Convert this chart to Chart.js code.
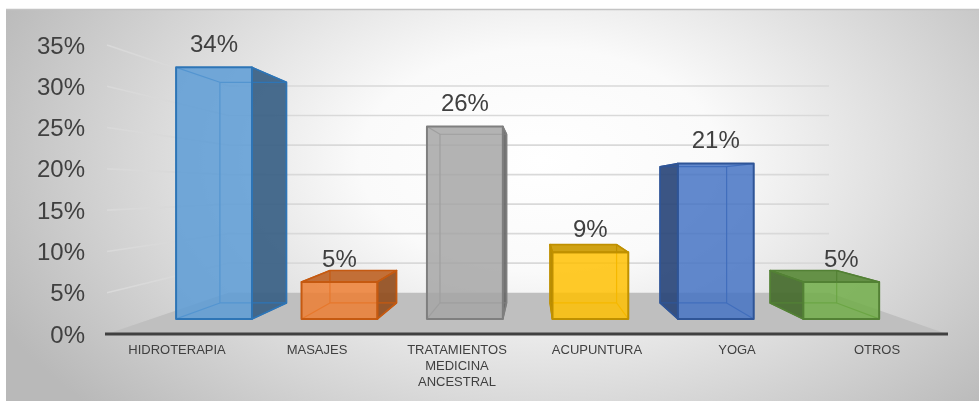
<!DOCTYPE html>
<html lang="es">
<head>
<meta charset="utf-8">
<title>Terapias alternativas</title>
<script src="https://cdn.jsdelivr.net/npm/chart.js@4.4.1/dist/chart.umd.min.js"></script>
<style>
  html, body { margin: 0; padding: 0; background: #fff; }
</style>
</head>
<body>
<canvas id="grafico" width="979" height="403"></canvas>
<script>
const categorias = ['HIDROTERAPIA', 'MASAJES', ['TRATAMIENTOS', 'MEDICINA', 'ANCESTRAL'], 'ACUPUNTURA', 'YOGA', 'OTROS'];
const porcentajes = [34, 5, 26, 9, 21, 5];
const marcasEje = [0, 5, 10, 15, 20, 25, 30, 35];

const relleno = ['#5B9BD5', '#ED7D31', '#A5A5A5', '#FFC000', '#4472C4', '#70AD47'];
const borde = ['#2E75B6', '#C55A11', '#7F7F7F', '#BF9000', '#2F5597', '#538135'];

const fuente = 'Liberation Sans, Arial, sans-serif';

// vista 3D: punto de fuga y profundidad relativa de pared, cara frontal y cara trasera
const fuga = { x: 533, y: 189 };
const PROF_PARED = 0.715;
const PROF_FRENTE = 0.896;
const PROF_FONDO = 0.786;

function proyectar(x, y, k) {
    return [fuga.x + (x - fuga.x) * k, fuga.y + (y - fuga.y) * k];
}

function oscurecer(hex, f) {
    const n = parseInt(hex.slice(1), 16);
    const r = Math.round(((n >> 16) & 255) * f);
    const g = Math.round(((n >> 8) & 255) * f);
    const b = Math.round((n & 255) * f);
    return `rgb(${r},${g},${b})`;
}

function poligono(ctx, pts) {
    ctx.beginPath();
    ctx.moveTo(pts[0][0], pts[0][1]);
    for (let i = 1; i < pts.length; i++) ctx.lineTo(pts[i][0], pts[i][1]);
    ctx.closePath();
}

const fondo = {
    id: 'fondo',
    beforeDraw(chart) {
        const ctx = chart.ctx;
        ctx.save();
        ctx.fillStyle = '#ffffff';
        ctx.fillRect(0, 0, chart.width, chart.height);
        const cx = 540, cy = 160, sy = 0.62;
        ctx.translate(cx, cy);
        ctx.scale(1, sy);
        const g = ctx.createRadialGradient(0, 0, 0, 0, 0, 600);
        g.addColorStop(0, '#ffffff');
        g.addColorStop(0.3, '#fafafa');
        g.addColorStop(1, '#b9b9b9');
        ctx.fillStyle = g;
        ctx.fillRect(6 - cx, (9 - cy) / sy, chart.width - 6, (401 - 9) / sy);
        ctx.restore();
        ctx.save();
        ctx.strokeStyle = '#c4c4c4';
        ctx.lineWidth = 1.5;
        ctx.beginPath();
        ctx.moveTo(6, 9.5);
        ctx.lineTo(chart.width, 9.5);
        ctx.stroke();
        ctx.restore();
    }
};

const cajas3d = {
    id: 'cajas3d',
    beforeDatasetsDraw(chart) {
        const { ctx, chartArea: a, scales: { y } } = chart;
        ctx.save();
        // suelo
        const base = y.getPixelForValue(0);
        poligono(ctx, [[a.left, base], proyectar(a.left, base, PROF_PARED),
            proyectar(a.right, base, PROF_PARED), [a.right, base]]);
        ctx.fillStyle = '#bfbfbf';
        ctx.fill();
        // líneas de división en pared lateral y pared del fondo
        ctx.strokeStyle = '#d9d9d9';
        ctx.lineWidth = 1.6;
        marcasEje.forEach(v => {
            if (v === 0) return;
            const py = y.getPixelForValue(v);
            const p1 = proyectar(a.left, py, PROF_PARED);
            const p2 = proyectar(a.right, py, PROF_PARED);
            ctx.beginPath();
            ctx.moveTo(a.left, py);
            ctx.lineTo(p1[0], p1[1]);
            ctx.lineTo(p2[0], p2[1]);
            ctx.stroke();
        });
        // borde frontal del suelo
        ctx.strokeStyle = '#404040';
        ctx.lineWidth = 3;
        ctx.beginPath();
        ctx.moveTo(a.left - 2, base);
        ctx.lineTo(a.right + 1, base);
        ctx.stroke();
        ctx.restore();
    },
    beforeDatasetDraw() {
        return false;
    },
    afterDatasetsDraw(chart) {
        const ctx = chart.ctx;
        const meta = chart.getDatasetMeta(0);
        ctx.save();
        ctx.lineJoin = 'round';
        meta.data.forEach((bar, i) => {
            const l = bar.x - bar.width / 2, r = bar.x + bar.width / 2;
            const t = bar.y, b = bar.base;
            const f = [proyectar(l, t, PROF_FRENTE), proyectar(r, t, PROF_FRENTE),
                proyectar(r, b, PROF_FRENTE), proyectar(l, b, PROF_FRENTE)];
            const k = [proyectar(l, t, PROF_FONDO), proyectar(r, t, PROF_FONDO),
                proyectar(r, b, PROF_FONDO), proyectar(l, b, PROF_FONDO)];

            // cara lateral visible
            const lado = bar.x < fuga.x
                ? [f[1], k[1], k[2], f[2]]
                : [f[0], k[0], k[3], f[3]];
            ctx.globalAlpha = 0.92;
            poligono(ctx, lado);
            ctx.fillStyle = oscurecer(relleno[i], 0.62);
            ctx.fill();

            // cara superior si queda por debajo del horizonte
            const verTapa = f[0][1] > fuga.y;
            if (verTapa) {
                poligono(ctx, [f[0], f[1], k[1], k[0]]);
                ctx.fillStyle = oscurecer(relleno[i], 0.8);
                ctx.fill();
            }

            // aristas traseras, vistas a través de la cara frontal
            ctx.globalAlpha = 1;
            ctx.strokeStyle = borde[i];
            ctx.lineWidth = 1.2;
            poligono(ctx, k);
            ctx.stroke();
            for (let j = 0; j < 4; j++) {
                ctx.beginPath();
                ctx.moveTo(f[j][0], f[j][1]);
                ctx.lineTo(k[j][0], k[j][1]);
                ctx.stroke();
            }

            // cara frontal
            ctx.globalAlpha = 0.84;
            poligono(ctx, f);
            ctx.fillStyle = relleno[i];
            ctx.fill();
            ctx.globalAlpha = 1;
            ctx.lineWidth = 2;
            ctx.stroke();
            poligono(ctx, lado);
            ctx.lineWidth = 1.6;
            ctx.stroke();
            if (verTapa) {
                poligono(ctx, [f[0], f[1], k[1], k[0]]);
                ctx.stroke();
            }

            // etiqueta de valor
            ctx.fillStyle = '#404040';
            ctx.font = `24px ${fuente}`;
            ctx.textAlign = 'center';
            ctx.textBaseline = 'middle';
            ctx.fillText(porcentajes[i] + '%', (f[0][0] + f[1][0]) / 2, f[0][1] - 22);
        });
        ctx.restore();
    }
};

new Chart(document.getElementById('grafico'), {
    type: 'bar',
    data: {
        labels: categorias,
        datasets: [{
            data: porcentajes,
            backgroundColor: relleno,
            borderColor: borde,
            categoryPercentage: 1,
            barPercentage: 0.605
        }]
    },
    options: {
        responsive: false,
        animation: false,
        layout: { padding: { left: 7, right: 32, top: 45, bottom: 9 } },
        plugins: {
            legend: { display: false },
            tooltip: { enabled: false }
        },
        scales: {
            x: {
                grid: { display: false, drawTicks: false },
                border: { display: false },
                ticks: {
                    color: '#404040',
                    font: { size: 13, family: fuente, lineHeight: 1.2 },
                    padding: 9,
                    maxRotation: 0,
                    autoSkip: false
                },
                afterFit(s) { s.height = 60; }
            },
            y: {
                min: 0,
                max: 35,
                grid: { display: false, drawTicks: false },
                border: { display: false },
                ticks: {
                    color: '#404040',
                    font: { size: 24, family: fuente },
                    padding: 22,
                    labelOffset: 2,
                    callback: v => v + '%'
                },
                afterBuildTicks(s) { s.ticks = marcasEje.map(v => ({ value: v })); },
                afterFit(s) { s.width = 100; }
            }
        }
    },
    plugins: [fondo, cajas3d]
});
</script>
</body>
</html>
